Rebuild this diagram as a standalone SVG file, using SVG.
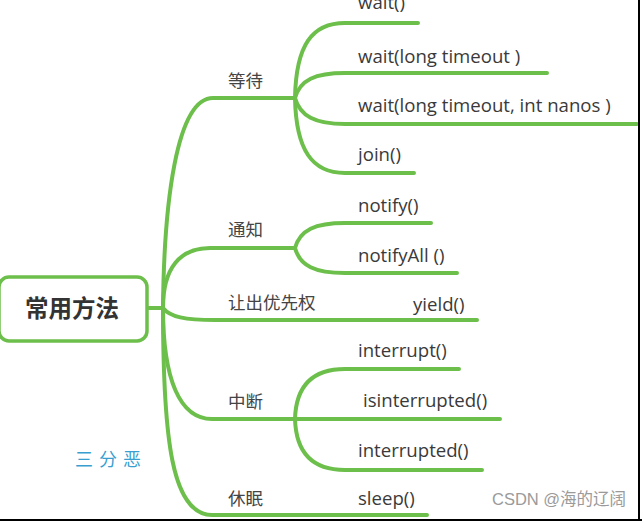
<svg xmlns="http://www.w3.org/2000/svg" width="642" height="521" viewBox="0 0 642 521">
<style>
.c{fill:none;stroke:#6dbf4b;stroke-width:4;stroke-linecap:round}
.m{font-family:"Open Sans","Liberation Sans",sans-serif;font-size:18.6px;fill:#3a3a3a}
.k{font-family:"Noto Sans CJK SC","Noto Sans",sans-serif;font-size:17.5px;fill:#444}
</style>
<rect width="642" height="521" fill="#fff"/>
<g id="connectors">
<path class="c" d="M147,308 H163"/>
<path class="c" d="M163,308 C164,205 176,98 213,98 H295"/>
<path class="c" d="M163,308 C163,268 180,248 210,248 H295"/>
<path class="c" d="M163,308 C170,317 185,320 215,320 H477"/>
<path class="c" d="M163,308 C163,380 180,419 212,419 H295"/>
<path class="c" d="M163,308 C163,440 172,515 212,515 H427"/>
<path class="c" d="M295,98 C296,45 312,23 345,23 H418"/>
<path class="c" d="M295,98 C300,80 315,73 345,73 H547"/>
<path class="c" d="M295,98 C300,116 315,124 345,124 H637"/>
<path class="c" d="M295,98 C296,150 312,173 345,173 H414"/>
<path class="c" d="M295,248 C300,230 315,223 345,223 H431"/>
<path class="c" d="M295,248 C300,266 315,273 345,273 H457"/>
<path class="c" d="M295,419 C296,386 312,369 345,369 H459"/>
<path class="c" d="M295,419 H500"/>
<path class="c" d="M295,419 C296,452 312,470 345,470 H482"/>
</g>
<g id="root">
<rect x="-1" y="277" width="148" height="64" rx="10" fill="#fff" stroke="#6dbf4b" stroke-width="3.5"/>
<text x="72" y="317" text-anchor="middle" font-family="Noto Sans CJK SC,sans-serif" font-size="23.5" font-weight="bold" fill="#333">常用方法</text>
</g>
<g id="wait-group"><text class="k" x="228" y="87">等待</text></g>
<g id="notify-group"><text class="k" x="228" y="236">通知</text></g>
<g id="yield-group"><text class="k" x="228" y="309">让出优先权</text></g>
<g id="interrupt-group"><text class="k" x="228" y="408">中断</text></g>
<g id="sleep-group"><text class="k" x="228" y="505">休眠</text></g>
<g id="m-wait"><text class="m" x="358" y="9">wait()</text></g>
<g id="m-wait-long"><text class="m" x="358" y="63">wait(long timeout )</text></g>
<g id="m-wait-nanos"><text class="m" x="358" y="112">wait(long timeout, int nanos )</text></g>
<g id="m-join"><text class="m" x="358" y="161">join()</text></g>
<g id="m-notify"><text class="m" x="358" y="212">notify()</text></g>
<g id="m-notifyall"><text class="m" x="358" y="262">notifyAll ()</text></g>
<g id="m-yield"><text class="m" x="413" y="311">yield()</text></g>
<g id="m-interrupt"><text class="m" x="358" y="357">interrupt()</text></g>
<g id="m-isinterrupted"><text class="m" x="363" y="407">isinterrupted()</text></g>
<g id="m-interrupted"><text class="m" x="358" y="457">interrupted()</text></g>
<g id="m-sleep"><text class="m" x="358" y="505">sleep()</text></g>
<text x="75" y="466" font-family="Noto Sans CJK SC,sans-serif" font-size="18" letter-spacing="6" fill="#3a9fd0">三分恶</text>
<text x="492" y="505" font-family="Liberation Sans,Noto Sans CJK SC,sans-serif" font-size="16.5" fill="#9a9a9a">CSDN @海的辽阔</text>
<rect x="638" y="0" width="2" height="521" fill="#000"/>
<rect x="0" y="519" width="642" height="2" fill="#000"/>
</svg>
